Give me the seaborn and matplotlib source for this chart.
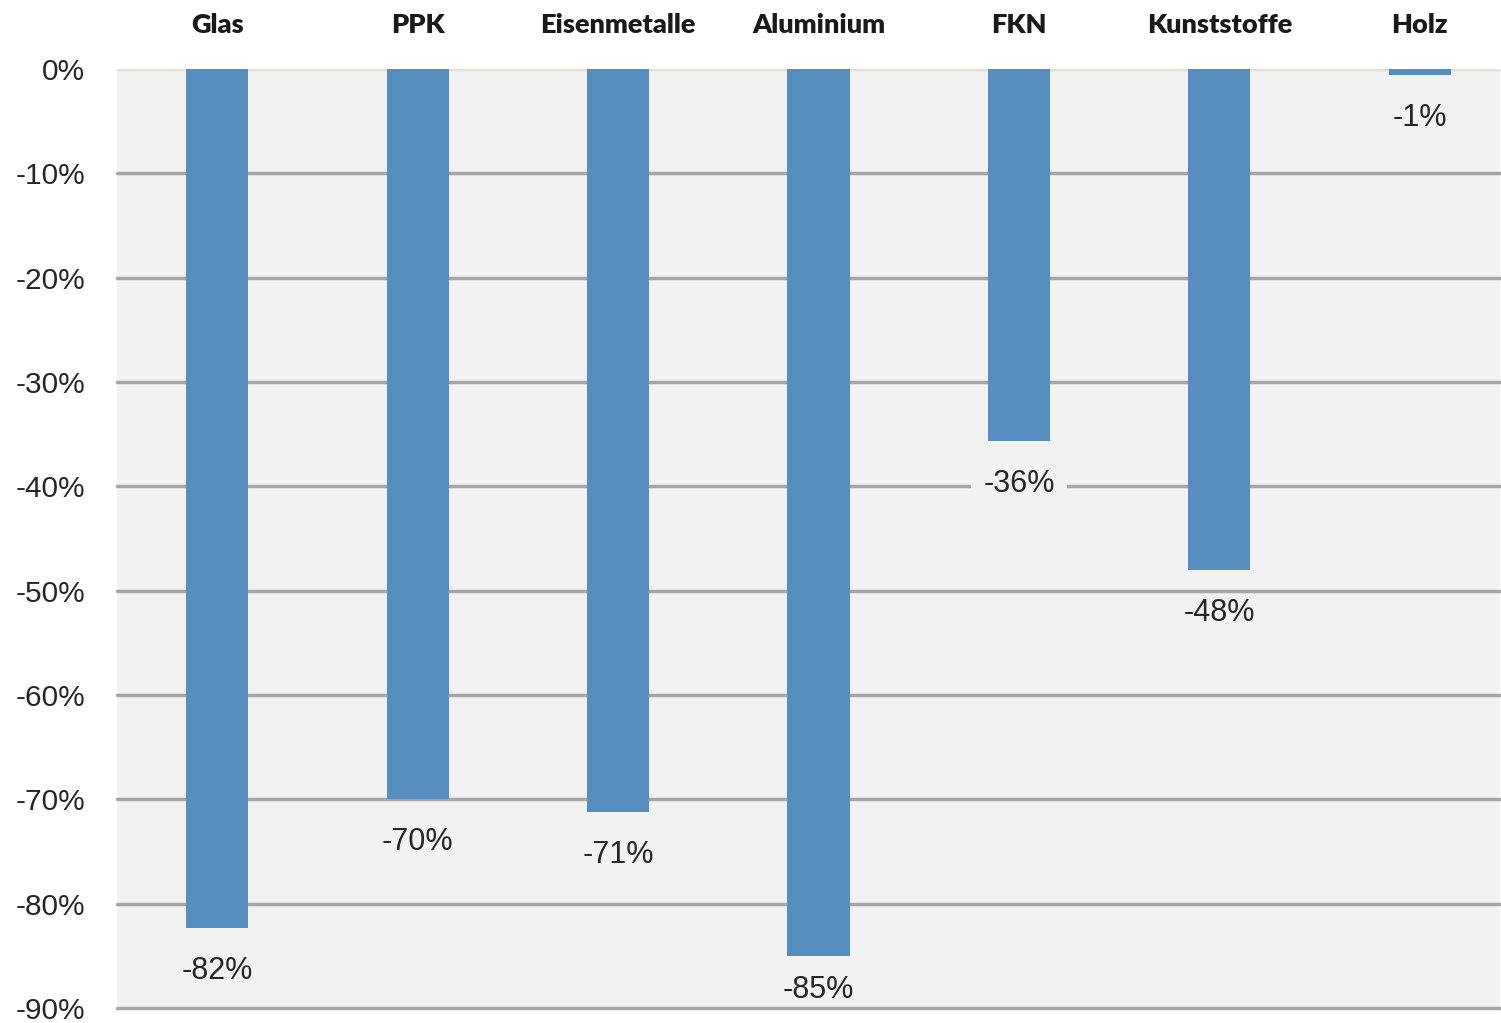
import matplotlib
matplotlib.use("Agg")
import matplotlib.pyplot as plt
import seaborn as sns
import pandas as pd

# Change per material category (percent)
categories = ["Glas", "PPK", "Eisenmetalle", "Aluminium", "FKN", "Kunststoffe", "Holz"]
change_pct = [-82.3, -70.0, -71.2, -85.0, -35.7, -48.0, -0.6]
y_ticks = [0, -10, -20, -30, -40, -50, -60, -70, -80, -90]

df = pd.DataFrame({"Kategorie": categories, "Veränderung": change_pct})

sns.set_theme(style="white")
plt.rcParams["font.family"] = ["Liberation Sans", "DejaVu Sans"]

bar_color = "#568EBF"
plot_bg = "#F2F2F2"
grid_color = "#A6A6A6"

fig = plt.figure(figsize=(15.01, 10.23), dpi=100)
ax = fig.add_axes([117 / 1501, 1 - 1008 / 1023, (1500 - 117) / 1501, 939 / 1023])
ax.set_facecolor(plot_bg)

sns.barplot(data=df, x="Kategorie", y="Veränderung", color=bar_color,
            width=0.31, saturation=1, linewidth=0, edgecolor="none", ax=ax, zorder=3)

ax.set_xlim(-0.5, 6.4)
ax.set_ylim(-90, 0)
ax.set_yticks(y_ticks)
ax.set_yticklabels([f"{t}%" for t in y_ticks])

# Horizontal gridlines; the zero line is drawn lighter
for t in y_ticks:
    if t == 0:
        ax.axhline(t, color="#E4DED6", lw=2.5, zorder=1)
    else:
        ax.axhline(t, color=grid_color, lw=2.5, zorder=1, clip_on=False)

for s in ax.spines.values():
    s.set_visible(False)

ax.set_xlabel("")
ax.set_ylabel("")
ax.xaxis.tick_top()
ax.set_xticks(range(len(categories)))
ax.set_xticklabels(categories, fontfamily=["Lato", "DejaVu Sans"],
                   fontweight="heavy", fontsize=19.5, color="#1a1a1a")
ax.tick_params(axis="x", length=0, pad=23)
ax.tick_params(axis="y", length=0, pad=23, labelsize=21.5, labelcolor="#262626")

# Value labels below each bar end, kept inside the plot area
units_per_px = 90 / 939
for i, v in enumerate(change_pct):
    y_lbl = max(v - 43 * units_per_px, -90 + 18 * units_per_px)
    crosses_grid = any(abs(y_lbl - t) < 1.2 for t in y_ticks[1:-1])
    ax.text(i, y_lbl, f"{round(v):d}%", ha="center", va="center", fontsize=22,
            color="#262626", zorder=4,
            bbox=dict(boxstyle="square,pad=0.4", fc=plot_bg, ec="none") if crosses_grid else None)

fig.savefig("out.png", dpi=100, facecolor="white")
